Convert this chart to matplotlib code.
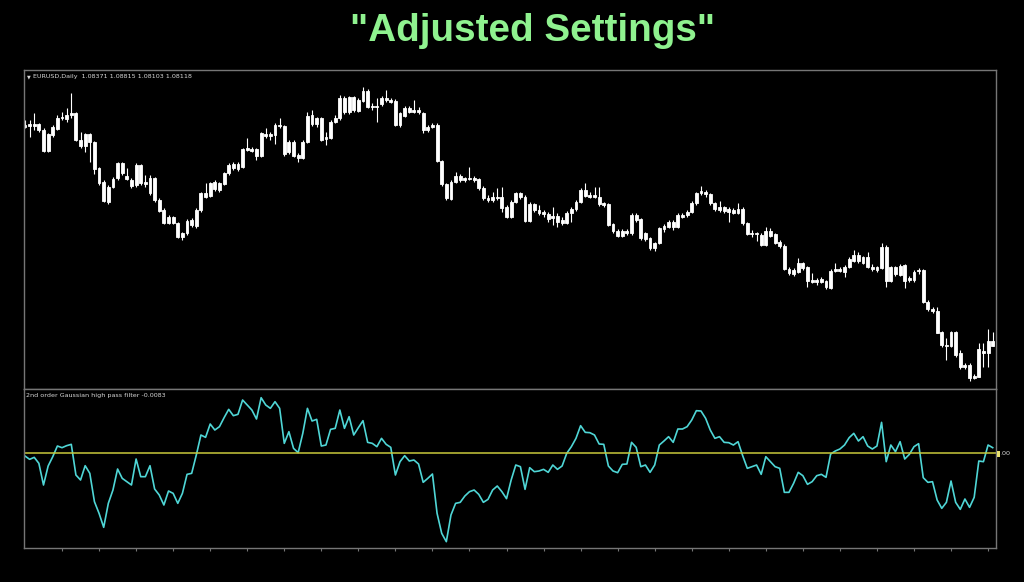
import numpy as np
import matplotlib.pyplot as plt
from matplotlib.patches import Rectangle

# EURUSD daily candles (oldest -> newest)
opens = [
    1.1915, 1.1908, 1.1918, 1.1918, 1.1888, 1.1785, 1.1865, 1.1895, 1.1948, 1.1945,
    1.1965, 1.1977, 1.1838, 1.1810, 1.1868, 1.1832, 1.1698, 1.1632, 1.1528, 1.1607,
    1.1648, 1.1725, 1.1660, 1.1642, 1.1615, 1.1715, 1.1628, 1.1652, 1.1540, 1.1540,
    1.1488, 1.1423, 1.1455, 1.1423, 1.1357, 1.1373, 1.1438, 1.1412, 1.1488, 1.1573,
    1.1562, 1.1628, 1.1590, 1.1622, 1.1673, 1.1718, 1.1695, 1.1707, 1.1790, 1.1795,
    1.1795, 1.1762, 1.1868, 1.1860, 1.1865, 1.1915, 1.1910, 1.1778, 1.1832, 1.1765,
    1.1752, 1.1832, 1.1965, 1.1918, 1.1948, 1.1845, 1.1852, 1.1932, 1.1948, 1.2048,
    1.1978, 1.2053, 1.1987, 1.2037, 1.2085, 1.2003, 1.2010, 1.2018, 1.2052, 1.2040,
    1.2035, 1.1915, 1.1962, 1.2002, 1.1982, 1.1988, 1.1973, 1.1890, 1.1905, 1.1915,
    1.1735, 1.1618, 1.1545, 1.1632, 1.1660, 1.1640, 1.1648, 1.1640, 1.1643, 1.1602,
    1.1552, 1.1540, 1.1555, 1.1555, 1.1507, 1.1457, 1.1532, 1.1573, 1.1557, 1.1437,
    1.1520, 1.1490, 1.1482, 1.1470, 1.1448, 1.1460, 1.1440, 1.1427, 1.1473, 1.1493,
    1.1532, 1.1590, 1.1557, 1.1565, 1.1557, 1.1523, 1.1520, 1.1420, 1.1387, 1.1360,
    1.1385, 1.1373, 1.1465, 1.1443, 1.1343, 1.1348, 1.1298, 1.1327, 1.1393, 1.1407,
    1.1432, 1.1403, 1.1465, 1.1465, 1.1482, 1.1523, 1.1573, 1.1578, 1.1568, 1.1523,
    1.1490, 1.1503, 1.1482, 1.1490, 1.1477, 1.1493, 1.1423, 1.1370, 1.1373, 1.1365,
    1.1315, 1.1387, 1.1370, 1.1332, 1.1310, 1.1193, 1.1170, 1.1182, 1.1223, 1.1203,
    1.1140, 1.1130, 1.1147, 1.1133, 1.1100, 1.1187, 1.1197, 1.1182, 1.1207, 1.1237,
    1.1265, 1.1227, 1.1253, 1.1207, 1.1190, 1.1198, 1.1307, 1.1137, 1.1203, 1.1167,
    1.1213, 1.1140, 1.1140, 1.1183, 1.1190, 1.1032, 1.0993, 1.0987, 1.0880, 1.0812,
    1.0812, 1.0880, 1.0777, 1.0703, 1.0715, 1.0648, 1.0657, 1.0787, 1.0777, 1.08371,
]
highs = [
    1.1940, 1.1940, 1.1973, 1.1923, 1.1898, 1.1873, 1.1915, 1.1965, 1.1982, 1.2000,
    1.2073, 1.1982, 1.1882, 1.1873, 1.1873, 1.1835, 1.1707, 1.1640, 1.1615, 1.1657,
    1.1732, 1.1732, 1.1698, 1.1648, 1.1723, 1.1722, 1.1665, 1.1665, 1.1657, 1.1548,
    1.1498, 1.1465, 1.1462, 1.1432, 1.1380, 1.1445, 1.1448, 1.1498, 1.1582, 1.1623,
    1.1632, 1.1640, 1.1632, 1.1682, 1.1723, 1.1732, 1.1732, 1.1802, 1.1848, 1.1807,
    1.1802, 1.1882, 1.1898, 1.1882, 1.1923, 1.1948, 1.1915, 1.1840, 1.1840, 1.1773,
    1.1840, 1.1982, 1.1990, 1.1957, 1.1957, 1.1882, 1.1940, 1.1965, 1.2065, 1.2062,
    1.2062, 1.2062, 1.2048, 1.2107, 1.2095, 1.2023, 1.2048, 1.2062, 1.2090, 1.2048,
    1.2043, 1.1982, 1.2010, 1.2010, 1.2040, 1.2007, 1.1982, 1.1915, 1.1923, 1.1923,
    1.1740, 1.1623, 1.1640, 1.1682, 1.1668, 1.1657, 1.1707, 1.1660, 1.1652, 1.1612,
    1.1565, 1.1582, 1.1598, 1.1603, 1.1515, 1.1540, 1.1582, 1.1582, 1.1565, 1.1532,
    1.1527, 1.1515, 1.1490, 1.1482, 1.1507, 1.1473, 1.1457, 1.1487, 1.1507, 1.1540,
    1.1598, 1.1623, 1.1582, 1.1603, 1.1603, 1.1532, 1.1527, 1.1427, 1.1393, 1.1393,
    1.1393, 1.1473, 1.1473, 1.1448, 1.1382, 1.1357, 1.1332, 1.1407, 1.1420, 1.1440,
    1.1440, 1.1473, 1.1473, 1.1490, 1.1537, 1.1582, 1.1610, 1.1590, 1.1577, 1.1532,
    1.1537, 1.1510, 1.1503, 1.1498, 1.1527, 1.1503, 1.1432, 1.1390, 1.1382, 1.1373,
    1.1407, 1.1398, 1.1377, 1.1340, 1.1320, 1.1203, 1.1198, 1.1248, 1.1232, 1.1210,
    1.1173, 1.1148, 1.1157, 1.1140, 1.1193, 1.1227, 1.1207, 1.1215, 1.1253, 1.1290,
    1.1282, 1.1260, 1.1282, 1.1220, 1.1210, 1.1323, 1.1315, 1.1210, 1.1210, 1.1220,
    1.1220, 1.1160, 1.1190, 1.1198, 1.1197, 1.1040, 1.1003, 1.1003, 1.0887, 1.0848,
    1.0887, 1.0887, 1.0790, 1.0727, 1.0723, 1.0670, 1.0827, 1.0827, 1.0893, 1.08815,
]
lows = [
    1.1898, 1.1857, 1.1890, 1.1882, 1.1778, 1.1778, 1.1857, 1.1890, 1.1940, 1.1932,
    1.1948, 1.1835, 1.1798, 1.1782, 1.1732, 1.1670, 1.1615, 1.1528, 1.1518, 1.1600,
    1.1640, 1.1665, 1.1640, 1.1600, 1.1607, 1.1615, 1.1607, 1.1565, 1.1532, 1.1482,
    1.1418, 1.1418, 1.1418, 1.1352, 1.1340, 1.1365, 1.1407, 1.1398, 1.1482, 1.1548,
    1.1557, 1.1585, 1.1582, 1.1615, 1.1665, 1.1690, 1.1685, 1.1698, 1.1785, 1.1778,
    1.1740, 1.1757, 1.1848, 1.1840, 1.1818, 1.1898, 1.1762, 1.1768, 1.1757, 1.1728,
    1.1745, 1.1823, 1.1912, 1.1907, 1.1835, 1.1815, 1.1845, 1.1923, 1.1940, 1.1968,
    1.1968, 1.1982, 1.1982, 1.2032, 1.2002, 1.1990, 1.1928, 1.2012, 1.2032, 1.2023,
    1.1910, 1.1907, 1.1957, 1.1973, 1.1973, 1.1968, 1.1873, 1.1882, 1.1898, 1.1732,
    1.1612, 1.1540, 1.1540, 1.1623, 1.1632, 1.1632, 1.1640, 1.1632, 1.1590, 1.1540,
    1.1532, 1.1532, 1.1540, 1.1482, 1.1452, 1.1448, 1.1523, 1.1543, 1.1432, 1.1432,
    1.1482, 1.1465, 1.1457, 1.1432, 1.1415, 1.1407, 1.1415, 1.1420, 1.1432, 1.1487,
    1.1523, 1.1553, 1.1548, 1.1548, 1.1510, 1.1503, 1.1410, 1.1377, 1.1353, 1.1353,
    1.1365, 1.1365, 1.1432, 1.1340, 1.1337, 1.1290, 1.1287, 1.1320, 1.1382, 1.1398,
    1.1390, 1.1398, 1.1448, 1.1457, 1.1473, 1.1515, 1.1565, 1.1557, 1.1515, 1.1487,
    1.1482, 1.1477, 1.1432, 1.1470, 1.1470, 1.1415, 1.1365, 1.1357, 1.1337, 1.1310,
    1.1310, 1.1353, 1.1320, 1.1298, 1.1190, 1.1165, 1.1160, 1.1177, 1.1190, 1.1103,
    1.1123, 1.1115, 1.1123, 1.1097, 1.1093, 1.1180, 1.1180, 1.1157, 1.1200, 1.1230,
    1.1227, 1.1220, 1.1200, 1.1187, 1.1180, 1.1193, 1.1107, 1.1130, 1.1160, 1.1160,
    1.1098, 1.1132, 1.1132, 1.1170, 1.1027, 1.0987, 1.0977, 1.0873, 1.0807, 1.0740,
    1.0807, 1.0757, 1.0697, 1.0697, 1.0637, 1.0643, 1.0653, 1.0707, 1.0707, 1.08103,
]
closes = [
    1.1905, 1.1918, 1.1908, 1.1888, 1.1785, 1.1868, 1.1905, 1.1952, 1.1953, 1.1965,
    1.1975, 1.1840, 1.1810, 1.1868, 1.1832, 1.1695, 1.1623, 1.1535, 1.1607, 1.1645,
    1.1723, 1.1673, 1.1645, 1.1612, 1.1715, 1.1623, 1.1618, 1.1573, 1.1652, 1.1487,
    1.1423, 1.1457, 1.1423, 1.1357, 1.1373, 1.1435, 1.1415, 1.1488, 1.1573, 1.1557,
    1.1623, 1.1595, 1.1623, 1.1673, 1.1715, 1.1698, 1.1718, 1.1795, 1.1798, 1.1785,
    1.1762, 1.1873, 1.1860, 1.1868, 1.1915, 1.1908, 1.1768, 1.1832, 1.1762, 1.1752,
    1.1832, 1.1960, 1.1920, 1.1948, 1.1840, 1.1857, 1.1932, 1.1952, 1.2048, 1.1978,
    1.2053, 1.1990, 1.2040, 1.2085, 1.2007, 1.2010, 1.2003, 1.2052, 1.2038, 1.2032,
    1.1915, 1.1973, 1.2002, 1.1982, 1.1988, 1.1978, 1.1890, 1.1907, 1.1915, 1.1735,
    1.1618, 1.1548, 1.1632, 1.1660, 1.1640, 1.1648, 1.1643, 1.1652, 1.1598, 1.1548,
    1.1538, 1.1557, 1.1548, 1.1502, 1.1457, 1.1532, 1.1573, 1.1553, 1.1437, 1.1520,
    1.1490, 1.1477, 1.1470, 1.1443, 1.1460, 1.1432, 1.1427, 1.1477, 1.1493, 1.1532,
    1.1590, 1.1560, 1.1565, 1.1557, 1.1520, 1.1515, 1.1415, 1.1387, 1.1360, 1.1387,
    1.1373, 1.1465, 1.1440, 1.1348, 1.1373, 1.1298, 1.1327, 1.1398, 1.1410, 1.1432,
    1.1403, 1.1465, 1.1457, 1.1482, 1.1527, 1.1573, 1.1585, 1.1568, 1.1523, 1.1493,
    1.1503, 1.1487, 1.1493, 1.1477, 1.1493, 1.1423, 1.1370, 1.1377, 1.1368, 1.1315,
    1.1387, 1.1360, 1.1327, 1.1310, 1.1193, 1.1173, 1.1190, 1.1223, 1.1198, 1.1137,
    1.1130, 1.1140, 1.1132, 1.1103, 1.1187, 1.1193, 1.1187, 1.1207, 1.1243, 1.1265,
    1.1237, 1.1253, 1.1207, 1.1193, 1.1203, 1.1307, 1.1137, 1.1203, 1.1170, 1.1210,
    1.1137, 1.1152, 1.1182, 1.1190, 1.1032, 1.0993, 1.0983, 1.0877, 1.0813, 1.0817,
    1.0880, 1.0763, 1.0703, 1.0715, 1.0648, 1.0660, 1.0793, 1.0777, 1.0837, 1.08118,
]

# 2nd order Gaussian high pass filter output
hpf = [
    -0.0008, -0.0018, -0.0012, -0.0030, -0.0095, -0.0038, -0.0010, 0.0022, 0.0017, 0.0023,
    0.0027, -0.0065, -0.0080, -0.0037, -0.0060, -0.0145, -0.0180, -0.0222, -0.0150, -0.0110,
    -0.0047, -0.0075, -0.0085, -0.0095, -0.0017, -0.0070, -0.0070, -0.0037, -0.0107, -0.0125,
    -0.0155, -0.0113, -0.0120, -0.0150, -0.0120, -0.0063, -0.0060, -0.0005, 0.0055, 0.0048,
    0.0088, 0.0070, 0.0080, 0.0107, 0.0132, 0.0113, 0.0117, 0.0160, 0.0145, 0.0130,
    0.0103, 0.0167, 0.0145, 0.0135, 0.0155, 0.0135, 0.0030, 0.0065, 0.0015, 0.0002,
    0.0060, 0.0135, 0.0097, 0.0102, 0.0022, 0.0025, 0.0072, 0.0075, 0.0130, 0.0075,
    0.0110, 0.0055, 0.0077, 0.0098, 0.0033, 0.0030, 0.0020, 0.0045, 0.0027, 0.0018,
    -0.0065, -0.0025, -0.0007, -0.0023, -0.0020, -0.0032, -0.0087, -0.0075, -0.0062, -0.0180,
    -0.0240, -0.0265, -0.0185, -0.0150, -0.0147, -0.0128, -0.0115, -0.0110, -0.0123, -0.0147,
    -0.0138, -0.0110, -0.0098, -0.0115, -0.0136, -0.0080, -0.0035, -0.0040, -0.0108, -0.0043,
    -0.0055, -0.0053, -0.0048, -0.0057, -0.0035, -0.0048, -0.0038, 0.0000, 0.0020, 0.0045,
    0.0083, 0.0063, 0.0062, 0.0055, 0.0028, 0.0027, -0.0038, -0.0053, -0.0058, -0.0033,
    -0.0032, 0.0033, 0.0018, -0.0040, -0.0035, -0.0057, -0.0035, 0.0025, 0.0037, 0.0050,
    0.0033, 0.0073, 0.0073, 0.0080, 0.0100, 0.0128, 0.0127, 0.0105, 0.0070, 0.0045,
    0.0050, 0.0033, 0.0032, 0.0025, 0.0035, -0.0007, -0.0045, -0.0040, -0.0035, -0.0063,
    -0.0010, -0.0025, -0.0040, -0.0045, -0.0117, -0.0117, -0.0090, -0.0057, -0.0067, -0.0093,
    -0.0085, -0.0067, -0.0063, -0.0072, -0.0002, 0.0007, 0.0013, 0.0025, 0.0047, 0.0060,
    0.0037, 0.0050, 0.0022, 0.0013, 0.0022, 0.0093, -0.0025, 0.0025, 0.0005, 0.0035,
    -0.0017, -0.0003, 0.0020, 0.0029, -0.0073, -0.0087, -0.0085, -0.0140, -0.0165, -0.0147,
    -0.0083, -0.0147, -0.0168, -0.0137, -0.0162, -0.0132, -0.0023, -0.0025, 0.0025, 0.0017,
]

title = '"Adjusted Settings"'
symbol_label = "EURUSD,Daily  1.08371 1.08815 1.08103 1.08118"
indicator_label = "2nd order Gaussian high pass filter -0.0083"

o = np.array(opens)
h = np.array(highs)
l = np.array(lows)
c = np.array(closes)
x = np.arange(len(o))

frame_col = "#767676"

fig = plt.figure(figsize=(10.24, 5.82), dpi=100, facecolor="black")
ax = fig.add_axes([0.0234, 0.3316, 0.9492, 0.5481], facecolor="black")
ax2 = fig.add_axes([0.0234, 0.0584, 0.9492, 0.2732], facecolor="black", sharex=ax)

# candles
ax.vlines(x, l, h, color="white", lw=0.8)
body_lo = np.minimum(o, c)
body_h = np.abs(c - o)
ax.bar(x, body_h, bottom=body_lo, width=0.62, color="white",
       edgecolor="white", linewidth=0.6)
ax.set_ylim(1.0595, 1.2190)
ax.set_xlim(-0.22, 209.7)

# indicator
ax2.plot(x, hpf, color="#4fd6d6", lw=1.2)
ax2.axhline(0, color="#c8c83c", lw=1.1)
ax2.set_ylim(-0.0284, 0.0193)

for a in (ax, ax2):
    for s in a.spines.values():
        s.set_color(frame_col)
        s.set_linewidth(1.0)
    a.tick_params(left=False, labelleft=False, labelbottom=False,
                  bottom=False)
ax2.set_xticks(np.arange(8, 210, 8))
ax2.tick_params(bottom=True, direction="out", length=2, color=frame_col)

# labels inside panels
ax.text(0.003, 0.985, "\u25bc", transform=ax.transAxes, color="#d8d8d8",
        fontsize=3.5, va="top", ha="left")
ax.text(0.0095, 0.988, symbol_label, transform=ax.transAxes, color="#d8d8d8",
        fontsize=4.6, va="top", ha="left")
ax2.text(0.002, 0.975, indicator_label, transform=ax2.transAxes,
         color="#d8d8d8", fontsize=4.6, va="top", ha="left")

# zero level marker on the right edge
fig.patches.append(Rectangle((996.5 / 1024, 1 - 456.8 / 582), 3.8 / 1024, 6.2 / 582,
                             transform=fig.transFigure, facecolor="#e8e070",
                             edgecolor="none"))
fig.text(1000.5 / 1024, 1 - 453.5 / 582, ".00", color="#d8d8d8", fontsize=4.6,
         va="center", ha="left")

fig.text(0.52, 0.946, title, color="#8ff28f", fontsize=27.8, fontweight="bold",
         family=["Liberation Sans", "DejaVu Sans"], ha="center", va="center")

fig.savefig("out.png", dpi=100, facecolor="black")
